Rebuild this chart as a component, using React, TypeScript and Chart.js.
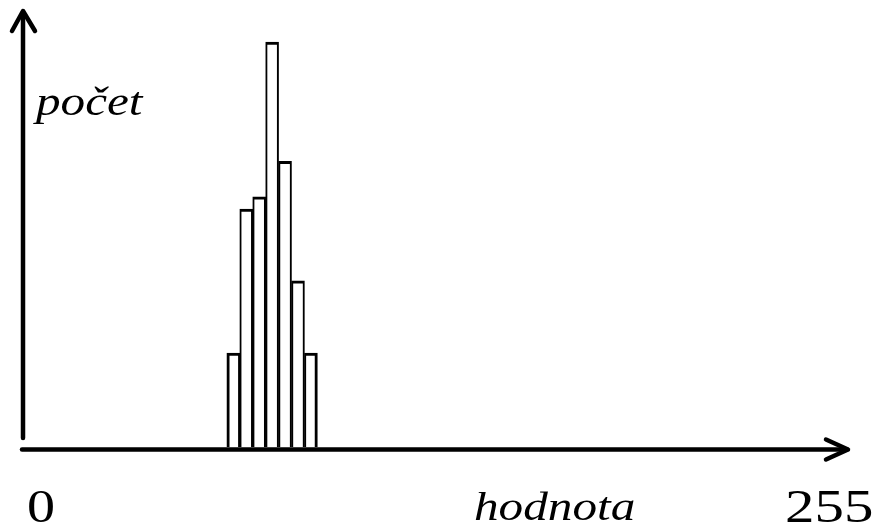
import React, { useEffect, useRef } from "react";
import { Chart, registerables } from "chart.js";

Chart.register(...registerables);

// histogram bins (value centres on 0..255) and their counts
const binCenters = [65, 69, 73, 77, 81, 85, 89];
const counts = [21.6, 54.7, 57.5, 93.1, 65.7, 38.2, 21.6];
const xRange = [0, 255];
const yMaxValue = 100;
const endLabels = ["0", "255"];
const axisTitles = { x: "hodnota", y: "počet" };

const W = 882;
const H = 523;
const ITALIC = 'italic 41px "Liberation Serif"';
const ROMAN = '46px "Liberation Serif"';

const axesPlugin = {
  id: "arrowAxes",
  afterDraw(chart: any) {
    const ctx = chart.ctx as CanvasRenderingContext2D;
    const { left, right, bottom } = chart.chartArea;
    ctx.save();
    ctx.strokeStyle = "#000";
    ctx.lineWidth = 4.5;
    ctx.lineCap = "round";
    ctx.lineJoin = "round";
    // vertical axis
    const vx = left;
    ctx.beginPath();
    ctx.moveTo(vx, bottom - 9);
    ctx.lineTo(vx, 12);
    ctx.stroke();
    ctx.beginPath();
    ctx.moveTo(vx - 11, 31);
    ctx.lineTo(vx, 11);
    ctx.lineTo(vx + 12, 31);
    ctx.stroke();
    // horizontal axis
    const hy = bottom + 2.5;
    ctx.beginPath();
    ctx.moveTo(left - 1, hy);
    ctx.lineTo(right - 1, hy);
    ctx.stroke();
    ctx.beginPath();
    ctx.moveTo(right - 22, hy - 10);
    ctx.lineTo(right, hy);
    ctx.lineTo(right - 22, hy + 10);
    ctx.stroke();

    ctx.fillStyle = "#000";
    ctx.textBaseline = "alphabetic";
    ctx.textAlign = "left";
    const drawText = (t: string, x: number, y: number, font: string, sx: number) => {
      ctx.save();
      ctx.font = font;
      ctx.translate(x, y);
      ctx.scale(sx, 1);
      ctx.fillText(t, 0, 0);
      ctx.restore();
    };
    drawText(axisTitles.y, 36, 115, ITALIC, 1.2);
    drawText(axisTitles.x, 474, 520, ITALIC, 1.2);
    drawText(endLabels[0], 27, 522, ROMAN, 1.22);
    drawText(endLabels[1], 785, 522, ROMAN, 1.28);
    ctx.restore();
  },
};

export default function App() {
  const ref = useRef<HTMLCanvasElement | null>(null);
  useEffect(() => {
    document.body.style.margin = "0";
    const canvas = ref.current;
    if (!canvas) return;
    const last = binCenters.length - 1;
    const chart = new Chart(canvas, {
      type: "bar",
      data: {
        datasets: [
          {
            data: binCenters.map((x, i) => ({ x, y: counts[i] })),
            backgroundColor: "#ffffff",
            borderColor: "#000000",
            borderWidth: (c: any) => ({
              top: 3,
              left: c.dataIndex === 0 ? 3 : 2,
              right: c.dataIndex === last ? 3 : 2,
              bottom: 0,
            }),
            borderSkipped: false,
            barPercentage: 1,
            categoryPercentage: 1,
          },
        ],
      },
      options: {
        responsive: false,
        animation: false,
        devicePixelRatio: 1,
        layout: { padding: { left: 23, right: 34, top: 12, bottom: 76 } },
        plugins: { legend: { display: false }, tooltip: { enabled: false } },
        scales: {
          x: { type: "linear", min: xRange[0], max: xRange[1], offset: false, display: false },
          y: { min: 0, max: yMaxValue, display: false },
        },
      },
      plugins: [axesPlugin],
    });
    let alive = true;
    const redraw = () => {
      if (alive) chart.draw();
    };
    Promise.all([document.fonts.load(ITALIC, "počet hodnota"), document.fonts.load(ROMAN, "0255")])
      .catch(() => undefined)
      .then(redraw);
    const t1 = setTimeout(redraw, 200);
    const t2 = setTimeout(redraw, 600);
    return () => {
      alive = false;
      clearTimeout(t1);
      clearTimeout(t2);
      chart.destroy();
    };
  }, []);
  return (
    <div style={{ width: W, height: H, background: "#fff" }}>
      <canvas ref={ref} width={W} height={H} style={{ display: "block" }} />
    </div>
  );
}
